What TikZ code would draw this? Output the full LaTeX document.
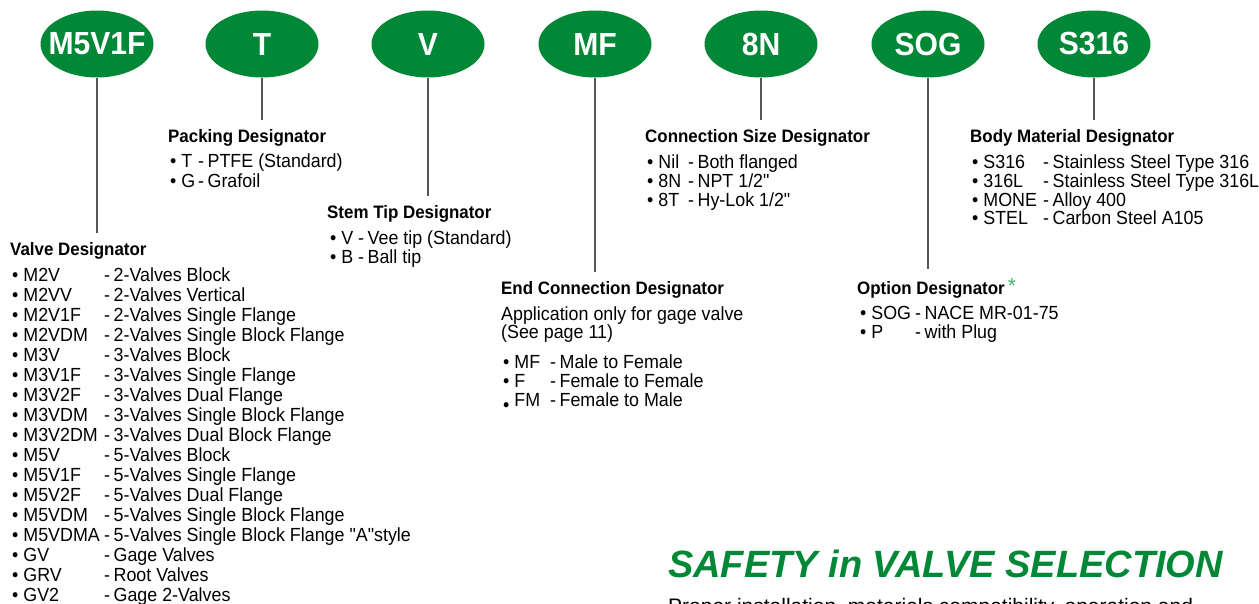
\documentclass[tikz,border=0pt]{standalone}
\usepackage{fontspec}
\newfontfamily\bodyfont{Liberation Sans}[FakeStretch=0.94]
\newfontfamily\safetyfont{Liberation Sans}
\usetikzlibrary{shapes.geometric,calc}
\definecolor{cgreen}{RGB}{0,136,55}
\definecolor{astgreen}{RGB}{70,185,110}
\definecolor{linegray}{RGB}{85,85,85}
\newcommand{\itm}[3]{\makebox[#1][l]{• #2}-\hspace{3.5pt}#3}
\newcommand{\lowbullet}{\raisebox{-5pt}{•}}
\begin{document}
\begin{tikzpicture}[x=1pt,y=-1pt,
  badge/.style={ellipse, fill=cgreen, draw=none, minimum width=113pt, minimum height=67pt, inner sep=0pt,
    label={[text=white, font=\bodyfont\fontsize{32}{32}\selectfont\bfseries]center:#1}},
  head/.style={anchor=base west, inner sep=0pt, font=\bodyfont\fontsize{18}{18}\selectfont\bfseries},
  item/.style={anchor=base west, inner sep=0pt, font=\bodyfont\fontsize{19}{19}\selectfont},
  stem/.style={draw=linegray, line width=1.3pt}]
\useasboundingbox (0,0) rectangle (1259,603);
\clip (0,0) rectangle (1259,603);

% badges
\node[badge=M5V1F] (e1) at (97,44) {};
\node[badge=T] (e2) at (262,44) {};
\node[badge=V] (e3) at (428,44) {};
\node[badge=MF] (e4) at (595,44) {};
\node[badge=8N] (e5) at (761,44) {};
\node[badge=SOG] (e6) at (928,44) {};
\node[badge=S316] (e7) at (1094,44) {};

% headings
\node[head] (h1) at (10,255) {Valve Designator};
\node[head] (h2) at (168,142) {Packing Designator};
\node[head] (h3) at (327,218) {Stem Tip Designator};
\node[head] (h4) at (501,294) {End Connection Designator};
\node[head] (h5) at (645,142) {Connection Size Designator};
\node[head] (h6) at (857,294) {Option Designator\hspace{3pt}\raisebox{1pt}{\textcolor{astgreen}{\mdseries\fontsize{22}{22}\selectfont *}}};
\node[head] (h7) at (970,142) {Body Material Designator};

% connectors
\foreach \k in {1,...,7}
  \draw[stem] (e\k.south) -- ($(e\k.south |- h\k.north)+(0,-9)$);

% valve designator list
\foreach \c/\d [count=\i from 0] in {M2V/2-Valves Block, M2VV/2-Valves Vertical, M2V1F/2-Valves Single Flange, M2VDM/2-Valves Single Block Flange, M3V/3-Valves Block, M3V1F/3-Valves Single Flange, M3V2F/3-Valves Dual Flange, M3VDM/3-Valves Single Block Flange, M3V2DM/3-Valves Dual Block Flange, M5V/5-Valves Block, M5V1F/5-Valves Single Flange, M5V2F/5-Valves Dual Flange, M5VDM/5-Valves Single Block Flange, M5VDMA/5-Valves Single Block Flange "A"style, GV/Gage Valves, GRV/Root Valves, GV2/Gage 2-Valves}
  \node[item, name=v\i] at (12,281+20*\i) {\itm{92pt}{\c}{\d}};

% packing
\node[item] (p1) at (170,167) {\itm{28pt}{T}{PTFE (Standard)}};
\node[item] (p2) at (170,187) {\itm{28pt}{G}{Grafoil}};

% stem tip
\node[item] (s1) at (330,244) {\itm{28pt}{V}{Vee tip (Standard)}};
\node[item] (s2) at (330,263) {\itm{28pt}{B}{Ball tip}};

% end connection
\node[item] (a1) at (501,320) {Application only for gage valve};
\node[item] (a2) at (501,338) {(See page 11)};
\node[item] (c1) at (503,368) {\itm{47pt}{MF}{Male to Female}};
\node[item] (c2) at (503,387) {\itm{47pt}{F}{Female to Female}};
\node[item] (c3) at (503,406) {\makebox[47pt][l]{\lowbullet{} FM}-\hspace{3.5pt}Female to Male};

% connection size
\node[item] (n1) at (647,168) {\itm{41pt}{Nil}{Both flanged}};
\node[item] (n2) at (647,187) {\itm{41pt}{8N}{NPT 1/2"}};
\node[item] (n3) at (647,206) {\itm{41pt}{8T}{Hy-Lok 1/2"}};

% option
\node[item] (o1) at (860,319) {\itm{55pt}{SOG}{NACE MR-01-75}};
\node[item] (o2) at (860,338) {\itm{55pt}{P}{with Plug}};

% body material
\node[item] (b1) at (972,168) {\itm{71pt}{S316}{Stainless Steel Type 316}};
\node[item] (b2) at (972,187) {\itm{71pt}{316L}{Stainless Steel Type 316L}};
\node[item] (b3) at (972,206) {\itm{71pt}{MONE}{Alloy 400}};
\node[item] (b4) at (972,224) {\itm{71pt}{STEL}{Carbon Steel A105}};

% safety
\node[anchor=base west, inner sep=0pt, text=cgreen, font=\safetyfont\fontsize{38}{38}\selectfont\bfseries\itshape] (safety) at (668,577) {SAFETY in VALVE SELECTION};
\node[anchor=base west, inner sep=0pt, font=\safetyfont\fontsize{21}{21}\selectfont] (proper) at (668,613) {Proper installation, materials compatibility, operation and};
\end{tikzpicture}
\end{document}
